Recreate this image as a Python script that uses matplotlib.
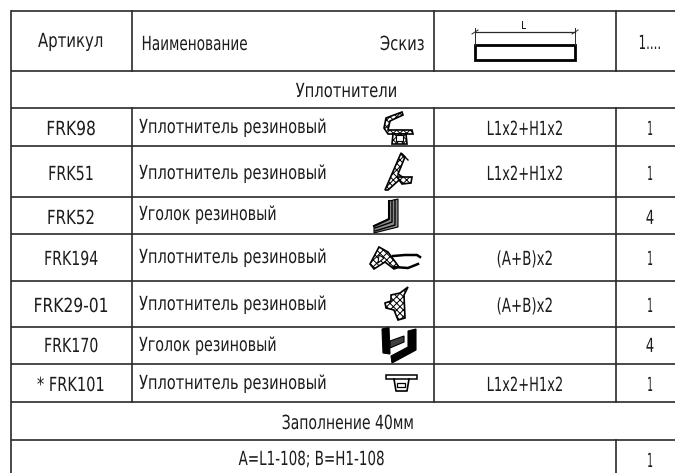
import matplotlib
matplotlib.use("Agg")
import matplotlib.pyplot as plt
from matplotlib.patches import Polygon, Rectangle
from matplotlib.patheffects import AbstractPathEffect
from matplotlib.transforms import Affine2D

plt.rcParams['font.family'] = ['DejaVu Sans']
plt.rcParams['hatch.linewidth'] = 0.7

articles = ["FRK98", "FRK51", "FRK52", "FRK194", "FRK29-01", "FRK170", "* FRK101"]
titles = ["Уплотнитель резиновый", "Уплотнитель резиновый", "Уголок резиновый",
          "Уплотнитель резиновый", "Уплотнитель резиновый", "Уголок резиновый",
          "Уплотнитель резиновый"]
lengths = ["L1x2+H1x2", "L1x2+H1x2", "", "(A+B)x2", "(A+B)x2", "", "L1x2+H1x2"]
amounts = ["1", "1", "4", "1", "1", "4", "1"]

col_x = [11, 132, 434, 616]
row_y = [11, 71, 108, 146, 197, 234, 281, 327, 364, 402, 440, 473]
base_y = [135, 180, 224, 265, 312, 352, 391]
title_y = [133, 179, 220, 263, 310, 351, 389]
article_w = [47, 43, 45, 52, 72, 52, 66]
title_w = [186, 186, 136, 186, 186, 136, 186]
length_w = [74, 74, 0, 54, 54, 0, 74]
amount_w = [4, 4, 7, 4, 4, 7, 4]

fig = plt.figure(figsize=(6.75, 4.73), dpi=100)
ax = fig.add_axes([0, 0, 1, 1])
ax.set_xlim(0, 675)
ax.set_ylim(473, 0)
ax.axis("off")

LINE = "#2a2a2a"
INK = "#1c1c1c"
FS = 14


class Squeeze(AbstractPathEffect):
    """Squeeze a text sideways to a given pixel width, the reference font is very narrow."""
    def __init__(self, width, ha):
        super().__init__()
        self.width = width
        self.ha = ha

    def draw_path(self, renderer, gc, tpath, affine, rgbFace=None):
        box = tpath.get_extents()
        wide = tpath.transformed(affine).get_extents().width
        anchor = {"left": box.x0, "center": (box.x0 + box.x1) / 2, "right": box.x1}[self.ha]
        squeeze = Affine2D().translate(-anchor, 0).scale(self.width / wide, 1).translate(anchor, 0)
        renderer.draw_path(gc, tpath, squeeze + affine, rgbFace)


def put(x, y, s, width, ha="center", fs=FS):
    if s == "":
        return
    t = ax.text(x, y, s, ha=ha, va="baseline", fontsize=fs, color=INK)
    t.set_path_effects([Squeeze(width, ha)])


# grid
for y in row_y[:-1]:
    ax.plot([11, 675], [y, y], color=LINE, lw=1.2, solid_capstyle="butt")
ax.plot([11, 11], [11, 473], color=LINE, lw=1.2)
for x in col_x[1:]:
    ax.plot([x, x], [11, 71], color=LINE, lw=1.2)
    ax.plot([x, x], [108, 402], color=LINE, lw=1.2)
ax.plot([616, 616], [440, 473], color=LINE, lw=1.2)

# header
put(71, 47, "Артикул", 64)
put(141, 50, "Наименование", 104, ha="left")
put(425, 50, "Эскиз", 43, ha="right")
put(650, 49, "1....", 20)
put(347, 97, "Уплотнители", 100)
put(348, 429, "Заполнение 40мм", 130)
put(312, 465, "A=L1-108; B=H1-108", 145)
put(650, 467, "1", 4)

for i in range(len(articles)):
    put(71, base_y[i], articles[i], article_w[i])
    put(139, title_y[i], titles[i], title_w[i], ha="left")
    put(525, base_y[i], lengths[i], length_w[i])
    put(650, base_y[i], amounts[i], amount_w[i])

# header sketch
ax.add_patch(Rectangle((475, 45), 100, 15, fc="white", ec="black", lw=2))
ax.plot([475, 575], [32, 32], color=LINE, lw=0.9)
ax.plot([475, 475], [28, 45], color=LINE, lw=0.7)
ax.plot([575, 575], [28, 45], color=LINE, lw=0.7)
ax.plot([472, 478], [34, 30], color=LINE, lw=0.7)
ax.plot([572, 578], [34, 30], color=LINE, lw=0.7)
put(524, 29, "L", 4, fs=8)


def mesh(pts, lw=1.2):
    ax.add_patch(Polygon(pts, closed=True, fc="white", ec="black", lw=lw, hatch="xxxxx"))


def solid(pts, fc="black", lw=0.8):
    ax.add_patch(Polygon(pts, closed=True, fc=fc, ec="black", lw=lw))


def strok(pts, lw=1.0):
    xs, ys = zip(*pts)
    ax.plot(xs, ys, color="black", lw=lw)


# FRK98
mesh([(402, 112), (403, 115), (390, 121), (388, 130), (412, 130), (413, 134), (388, 134), (384, 128), (386, 118)])
mesh([(393, 134), (406, 134), (407, 144), (392, 144)])
solid([(396, 135), (403, 135), (403, 141), (396, 141)], fc="white")

# FRK51
mesh([(401, 153), (405, 157), (398, 174), (404, 178), (398, 181), (388, 190), (385, 190)])
strok([(402, 154), (408, 160)])
mesh([(397, 177), (412, 177), (411, 183), (402, 184)])

# FRK52 corner
solid([(389, 201), (398, 199), (398, 227), (374, 233), (374, 226), (389, 219)], fc="#8a8a8a")
strok([(392, 201), (392, 222), (375, 228)])
strok([(395, 200), (395, 225), (375, 231)])
strok([(389, 201), (389, 219), (374, 226)], lw=1.5)

# FRK194
mesh([(379, 247), (388, 252), (399, 267), (394, 269), (385, 262), (374, 269), (370, 264)])
solid([(379, 255), (384, 258), (378, 263)], fc="white")
strok([(393, 256), (405, 255), (417, 255), (420, 257)], lw=1.8)
strok([(394, 267), (408, 268), (418, 264)], lw=1.8)

# FRK29-01
mesh([(408, 287), (404, 295), (405, 318), (398, 320), (394, 310), (386, 308), (385, 303), (391, 301), (391, 295), (400, 293)])

# FRK170
solid([(382, 329), (389, 327), (390, 354), (383, 353)])
solid([(390, 341), (404, 336), (404, 342), (390, 348)], fc="#404040")
solid([(408, 331), (416, 329), (416, 350), (392, 363), (391, 356), (408, 347)])

# FRK101
ax.add_patch(Polygon([(386, 375), (417, 375), (417, 379), (386, 379)], closed=True, fc="white", ec="black", lw=1.1))
strok([(394, 379), (396, 391), (407, 391), (409, 379)], lw=1.2)
ax.add_patch(Rectangle((397, 383), 8, 4, fc="white", ec="black", lw=0.9))

fig.savefig("out.png", dpi=100)
